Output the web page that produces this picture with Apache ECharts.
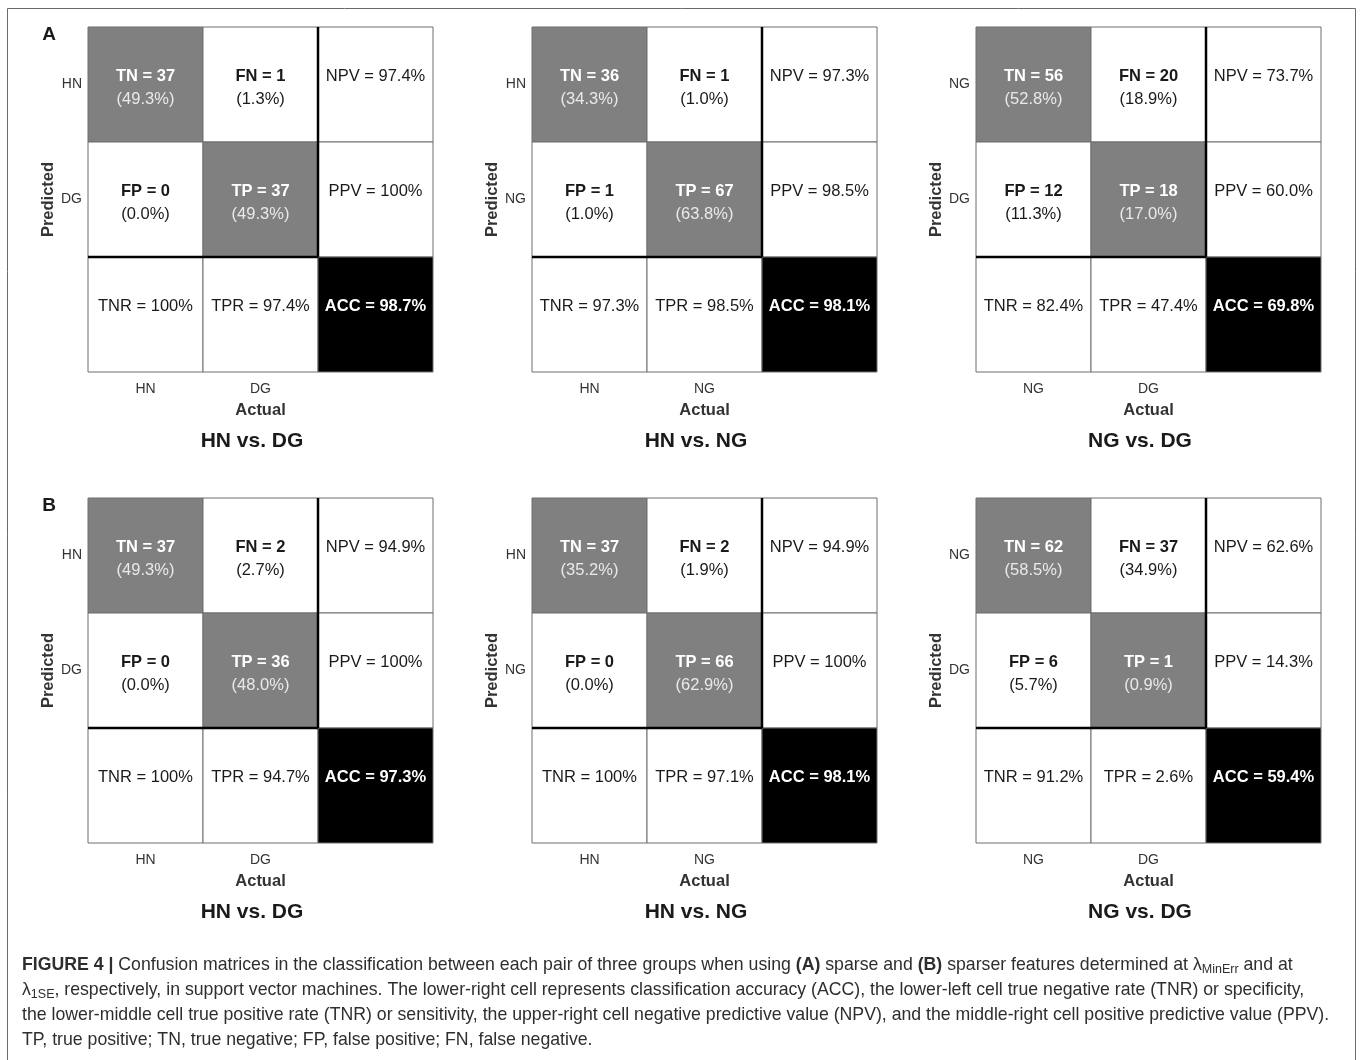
<!DOCTYPE html>
<html>
<head>
<meta charset="utf-8">
<script src="https://cdn.jsdelivr.net/npm/echarts@6/dist/echarts.min.js"></script>
<style>
  html, body { margin: 0; padding: 0; background: #ffffff; }
  #chart { width: 1362px; height: 1060px; }
</style>
</head>
<body>
<div id="chart"></div>
<script>
// ---- data -------------------------------------------------------------
const panelLetters = ['A', 'B'];
const comparisonTitles = ['HN vs. DG', 'HN vs. NG', 'NG vs. DG'];
// [negative class, positive class] for each comparison
const classPairs = [['HN', 'DG'], ['HN', 'NG'], ['NG', 'DG']];

// confusion counts [TN, FN, FP, TP]
const countsA = [[37, 1, 0, 37], [36, 1, 1, 67], [56, 20, 12, 18]];
const countsB = [[37, 2, 0, 36], [37, 2, 0, 66], [62, 37, 6, 1]];

// share of all cases (%) [TN, FN, FP, TP]
const sharesA = [[49.3, 1.3, 0.0, 49.3], [34.3, 1.0, 1.0, 63.8], [52.8, 18.9, 11.3, 17.0]];
const sharesB = [[49.3, 2.7, 0.0, 48.0], [35.2, 1.9, 0.0, 62.9], [58.5, 34.9, 5.7, 0.9]];

// summary rates (%) [NPV, PPV, TNR, TPR, ACC]
const ratesA = [[97.4, 100, 100, 97.4, 98.7], [97.3, 98.5, 97.3, 98.5, 98.1], [73.7, 60.0, 82.4, 47.4, 69.8]];
const ratesB = [[94.9, 100, 100, 94.7, 97.3], [94.9, 100, 100, 97.1, 98.1], [62.6, 14.3, 91.2, 2.6, 59.4]];

const captionLines = [
  '{b|FIGURE 4 |} Confusion matrices in the classification between each pair of three groups when using {b|(A)} sparse and {b|(B)} sparser features determined at λ{s|MinErr} and at',
  'λ{s|1SE}, respectively, in support vector machines. The lower-right cell represents classification accuracy (ACC), the lower-left cell true negative rate (TNR) or specificity,',
  'the lower-middle cell true positive rate (TNR) or sensitivity, the upper-right cell negative predictive value (NPV), and the middle-right cell positive predictive value (PPV).',
  'TP, true positive; TN, true negative; FP, false positive; FN, false negative.'
];

// ---- styling ------------------------------------------------------------
const FONT = '"Liberation Sans", Arial, Helvetica, sans-serif';
const GREY = '#808080';
const INK = '#1a1a1a';
const CELL_FONT = 16.5;
const CAPTION_FONT = 17.7;

const fmtRate = v => (v === 100 ? '100' : v.toFixed(1)) + '%';
const fmtShare = v => '(' + v.toFixed(1) + '%)';

function buildCells(counts, shares, rates) {
  const [tn, fn, fp, tp] = counts;
  const [stn, sfn, sfp, stp] = shares;
  const [npv, ppv, tnr, tpr, acc] = rates;
  return [
    { col: 0, row: 0, head: 'TN = ' + tn, sub: fmtShare(stn), fill: GREY, headColor: '#ffffff', subColor: '#e9e9e9', bold: true },
    { col: 1, row: 0, head: 'FN = ' + fn, sub: fmtShare(sfn), fill: '#ffffff', headColor: INK, subColor: INK, bold: true },
    { col: 2, row: 0, head: 'NPV = ' + fmtRate(npv), fill: '#ffffff', headColor: INK, bold: false },
    { col: 0, row: 1, head: 'FP = ' + fp, sub: fmtShare(sfp), fill: '#ffffff', headColor: INK, subColor: INK, bold: true },
    { col: 1, row: 1, head: 'TP = ' + tp, sub: fmtShare(stp), fill: GREY, headColor: '#ffffff', subColor: '#e9e9e9', bold: true },
    { col: 2, row: 1, head: 'PPV = ' + fmtRate(ppv), fill: '#ffffff', headColor: INK, bold: false },
    { col: 0, row: 2, head: 'TNR = ' + fmtRate(tnr), fill: '#ffffff', headColor: INK, bold: false },
    { col: 1, row: 2, head: 'TPR = ' + fmtRate(tpr), fill: '#ffffff', headColor: INK, bold: false },
    { col: 2, row: 2, head: 'ACC = ' + fmtRate(acc), fill: '#000000', headColor: '#ffffff', bold: true }
  ];
}

function makeRenderer(cells) {
  return function (params, api) {
    const cell = cells[params.dataIndex];
    const c = api.coord([api.value(0), api.value(1)]);
    const s = api.size([1, 1]);
    const x0 = c[0] - s[0] / 2;
    const y0 = c[1] - s[1] / 2;
    const children = [{
      type: 'rect',
      shape: { x: x0, y: y0, width: s[0], height: s[1] },
      style: { fill: cell.fill, stroke: '#6e6e6e', lineWidth: 1 }
    }, {
      type: 'text',
      z2: 5,
      style: {
        x: c[0], y: c[1] - 8, text: cell.head,
        font: (cell.bold ? 'bold ' : '') + CELL_FONT + 'px ' + FONT,
        fill: cell.headColor, align: 'center', verticalAlign: 'middle'
      }
    }];
    if (cell.sub) {
      children.push({
        type: 'text',
        z2: 5,
        style: {
          x: c[0], y: c[1] + 14.5, text: cell.sub,
          font: CELL_FONT + 'px ' + FONT,
          fill: cell.subColor, align: 'center', verticalAlign: 'middle'
        }
      });
    }
    // heavy rules separating the 2x2 matrix from the summary cells
    if (cell.col === 2 && cell.row < 2) {
      children.push({
        type: 'line', z2: 10,
        shape: { x1: x0, y1: y0, x2: x0, y2: y0 + s[1] },
        style: { stroke: '#000000', lineWidth: 2.5 }
      });
    }
    if (cell.row === 2 && cell.col < 2) {
      children.push({
        type: 'line', z2: 10,
        shape: { x1: x0, y1: y0, x2: x0 + s[0], y2: y0 },
        style: { stroke: '#000000', lineWidth: 2.5 }
      });
    }
    return { type: 'group', children: children };
  };
}

// ---- layout ---------------------------------------------------------------
const GRID_SIZE = 345;
const gridLefts = [88, 532, 976];
const gridTops = [27, 498];

const grids = [], xAxes = [], yAxes = [], series = [], graphics = [];
const countSets = [countsA, countsB];
const shareSets = [sharesA, sharesB];
const rateSets = [ratesA, ratesB];

for (let r = 0; r < 2; r++) {
  for (let c = 0; c < 3; c++) {
    const idx = r * 3 + c;
    const pair = classPairs[c];
    grids.push({ left: gridLefts[c], top: gridTops[r], width: GRID_SIZE, height: GRID_SIZE, containLabel: false });
    xAxes.push({
      gridIndex: idx, type: 'category', data: [pair[0], pair[1], ''],
      position: 'bottom',
      axisLine: { show: false }, axisTick: { show: false }, splitLine: { show: false },
      axisLabel: { fontSize: 14, color: '#333333', fontFamily: FONT, margin: 10 },
      name: 'Actual', nameLocation: 'middle', nameGap: 30,
      nameTextStyle: { fontSize: 16.5, fontWeight: 'bold', color: '#333333', fontFamily: FONT }
    });
    yAxes.push({
      gridIndex: idx, type: 'category', data: [pair[0], pair[1], ''], inverse: true,
      axisLine: { show: false }, axisTick: { show: false }, splitLine: { show: false },
      axisLabel: { fontSize: 14, color: '#333333', fontFamily: FONT, margin: 6, padding: [4, 0, 0, 0] },
      name: 'Predicted', nameLocation: 'middle', nameGap: 27,
      nameTextStyle: { fontSize: 16.5, fontWeight: 'bold', color: '#333333', fontFamily: FONT }
    });
    const cells = buildCells(countSets[r][c], shareSets[r][c], rateSets[r][c]);
    series.push({
      type: 'custom', coordinateSystem: 'cartesian2d',
      xAxisIndex: idx, yAxisIndex: idx, clip: false, silent: true,
      data: cells.map(cl => [cl.col, cl.row]),
      renderItem: makeRenderer(cells)
    });
    graphics.push({
      type: 'text',
      x: gridLefts[c] + 164, y: gridTops[r] + 414,
      style: {
        text: comparisonTitles[c], font: 'bold 21px ' + FONT,
        fill: INK, align: 'center', verticalAlign: 'middle'
      }
    });
  }
  graphics.push({
    type: 'text', x: 49, y: gridTops[r] + 8,
    style: { text: panelLetters[r], font: 'bold 19px ' + FONT, fill: INK, align: 'center', verticalAlign: 'middle' }
  });
}

// figure frame
graphics.push({
  type: 'rect', z: -1,
  shape: { x: 7.5, y: 8.5, width: 1348, height: 1070 },
  style: { fill: 'none', stroke: '#6a6a6a', lineWidth: 1 }
});

// caption
const captionRich = {
  b: { fontWeight: 'bold', fontSize: CAPTION_FONT, fontFamily: FONT, fill: '#2e2e2e', lineHeight: 22 },
  s: { fontSize: 12.5, fontFamily: FONT, fill: '#2e2e2e', lineHeight: 8, verticalAlign: 'bottom' }
};
captionLines.forEach((line, i) => {
  graphics.push({
    type: 'text', x: 22, y: 965 + i * 25,
    style: {
      text: line, font: CAPTION_FONT + 'px ' + FONT, fill: '#2e2e2e',
      align: 'left', verticalAlign: 'middle', lineHeight: 22, rich: captionRich
    }
  });
});

const chart = echarts.init(document.getElementById('chart'), null, { renderer: 'canvas' });
chart.setOption({
  backgroundColor: '#ffffff',
  animation: false,
  textStyle: { fontFamily: FONT },
  grid: grids,
  xAxis: xAxes,
  yAxis: yAxes,
  series: series,
  graphic: graphics
});
</script>
</body>
</html>
